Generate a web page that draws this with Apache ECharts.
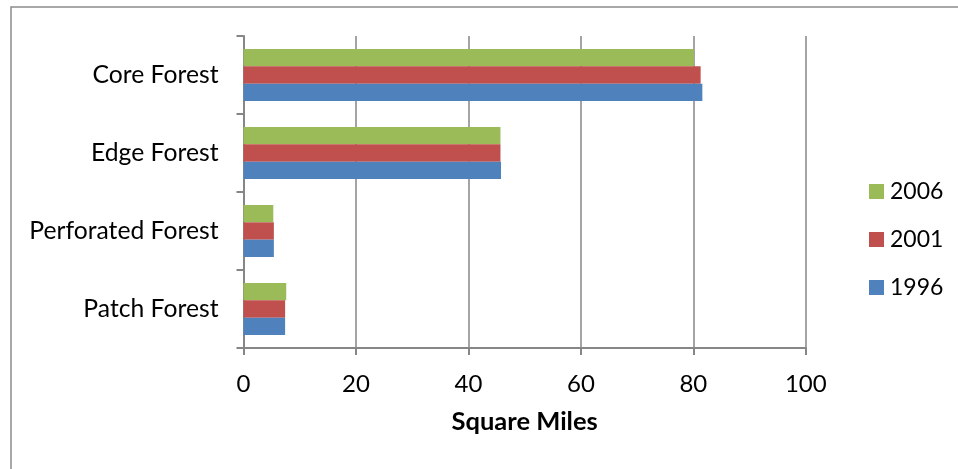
<!DOCTYPE html>
<html>
<head>
<meta charset="utf-8">
<script src="https://cdn.jsdelivr.net/npm/echarts@6/dist/echarts.min.js"></script>
<style>
  html, body { margin: 0; padding: 0; background: #ffffff; }
  #chart { width: 958px; height: 469px; }
</style>
</head>
<body>
<div id="chart"></div>
<script>
// Forest cover by type, in square miles
const categories = ['Patch Forest', 'Perforated Forest', 'Edge Forest', 'Core Forest'];
const years = ['2006', '2001', '1996'];
const values1996 = [7.4, 5.4, 45.8, 81.6];
const values2001 = [7.4, 5.4, 45.7, 81.3];
const values2006 = [7.6, 5.3, 45.7, 80.1];
const xTicks = { min: 0, max: 100, interval: 20 };

const colors = { '1996': '#4F81BD', '2001': '#C0504D', '2006': '#9BBB59' };
const seriesValues = { '1996': values1996, '2001': values2001, '2006': values2006 };
const FONT = 'Lato';
const AXIS_GRAY = '#868686';

const chart = echarts.init(document.getElementById('chart'), null, { renderer: 'canvas' });

chart.setOption({
  backgroundColor: '#ffffff',
  animation: false,
  textStyle: { fontFamily: FONT },
  graphic: [{
    type: 'rect',
    shape: { x: 11, y: 7, width: 1200, height: 1000 },
    style: { fill: 'none', stroke: '#8c8c8c', lineWidth: 1.5 },
    silent: true
  }],
  grid: { left: 243.5, top: 36, width: 562.3, height: 312 },
  legend: {
    orient: 'vertical',
    left: 869,
    top: 180,
    padding: 0,
    itemWidth: 15,
    itemHeight: 15,
    itemGap: 25,
    icon: 'rect',
    data: ['2006', '2001', '1996'],
    textStyle: { fontFamily: FONT, fontSize: 23, color: '#000', padding: [0, 0, 0, 1] }
  },
  xAxis: {
    type: 'value',
    min: xTicks.min,
    max: xTicks.max,
    interval: xTicks.interval,
    name: 'Square Miles',
    nameLocation: 'middle',
    nameGap: 61,
    nameTextStyle: { fontFamily: FONT, fontSize: 25.5, fontWeight: 'bold', color: '#000' },
    axisLine: { show: true, lineStyle: { color: AXIS_GRAY, width: 2 } },
    axisTick: { show: true, inside: false, length: 7, lineStyle: { color: AXIS_GRAY, width: 2 } },
    axisLabel: { margin: 24, fontFamily: FONT, fontSize: 24, color: '#000' },
    splitLine: { show: true, lineStyle: { color: AXIS_GRAY, width: 1.5 } }
  },
  yAxis: {
    type: 'category',
    data: categories,
    boundaryGap: true,
    axisLine: { show: true, lineStyle: { color: AXIS_GRAY, width: 2 } },
    axisTick: { show: true, inside: false, length: 7, alignWithLabel: false, lineStyle: { color: AXIS_GRAY, width: 2 } },
    axisLabel: { margin: 25, fontFamily: FONT, fontSize: 24.7, color: '#000' },
    splitLine: { show: false }
  },
  series: years.map(y => ({
    name: y,
    type: 'bar',
    data: seriesValues[y],
    barGap: '0%',
    barCategoryGap: '33.3%',
    itemStyle: { color: colors[y] }
  }))
});
</script>
</body>
</html>
